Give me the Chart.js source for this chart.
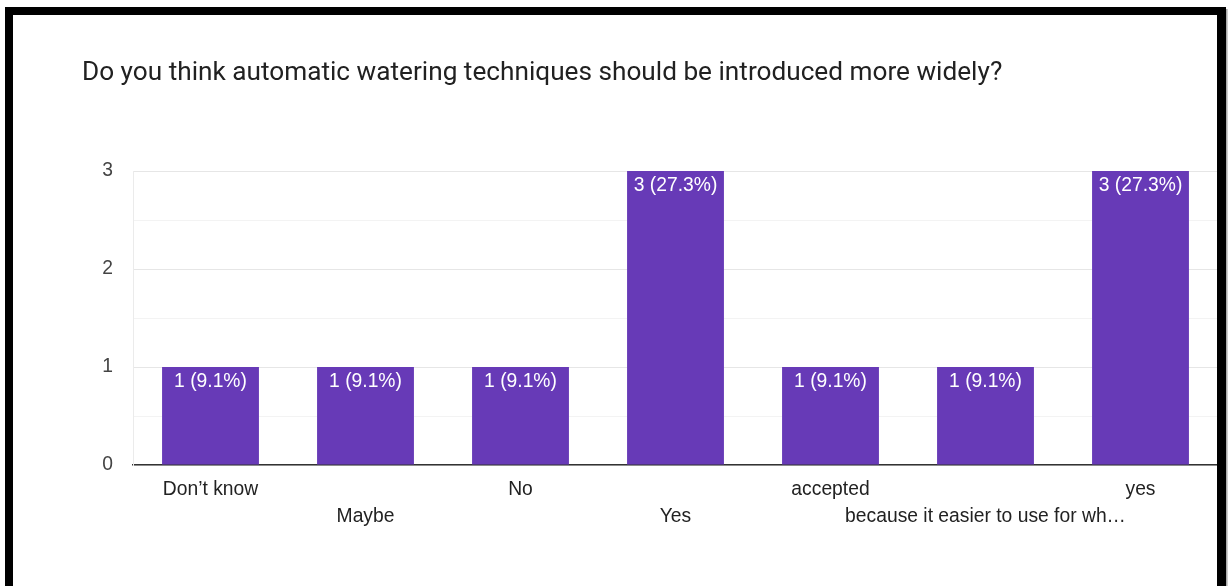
<!DOCTYPE html>
<html>
<head>
<meta charset="utf-8">
<script src="https://cdn.jsdelivr.net/npm/chart.js@4/dist/chart.umd.min.js"></script>
<style>
  html, body { margin: 0; padding: 0; background: #fff; }
  #wrap { position: relative; width: 1228px; height: 586px; overflow: hidden; }
  canvas { position: absolute; left: 0; top: 0; }
  .edge { position: absolute; background: #000; }
  .shade { position: absolute; background: linear-gradient(to right, #9a9a9a, #e0e0e0); }
</style>
</head>
<body>
<div id="wrap">
  <canvas id="c" width="1228" height="586"></canvas>
  <div class="edge" style="left:5px; top:7px; width:1221px; height:8px;"></div>
  <div class="edge" style="left:5px; top:7px; width:8px; height:579px;"></div>
  <div class="edge" style="left:1217px; top:7px; width:9px; height:579px;"></div>
  <div class="shade" style="left:1226px; top:9px; width:2px; height:577px;"></div>
</div>
<script>
// Survey answers and response counts
const categories = [
  "Don\u2019t know",
  "Maybe",
  "No",
  "Yes",
  "accepted",
  "because it easier to use for wh\u2026",
  "yes"
];
const counts = [1, 1, 1, 3, 1, 1, 3];
const yTickLabels = ["0", "1", "2", "3"];

const total = counts.reduce((a, b) => a + b, 0);
const chartFont = "'Liberation Sans', Arial, sans-serif";

// Every other category label drops to a second row so long answers fit
const xLabels = categories.map((c, i) => (i % 2 === 1 ? ["", c] : [c]));

const barLabels = {
  id: "barLabels",
  afterDatasetsDraw(chart) {
    const { ctx } = chart;
    const meta = chart.getDatasetMeta(0);
    ctx.save();
    ctx.fillStyle = "#ffffff";
    ctx.font = "19.3px " + chartFont;
    ctx.textAlign = "center";
    ctx.textBaseline = "middle";
    meta.data.forEach((bar, i) => {
      const v = counts[i];
      const pct = (v / total * 100).toFixed(1);
      ctx.fillText(v + " (" + pct + "%)", bar.x, bar.y + 15);
    });
    ctx.restore();
  }
};

new Chart(document.getElementById("c"), {
  type: "bar",
  data: {
    labels: xLabels,
    datasets: [{
      data: counts,
      backgroundColor: "#673ab7",
      borderWidth: 0,
      categoryPercentage: 1,
      barPercentage: 0.625
    }]
  },
  options: {
    responsive: false,
    animation: false,
    layout: { padding: { left: 82, right: 10, top: 0, bottom: 44 } },
    plugins: {
      legend: { display: false },
      tooltip: { enabled: false },
      title: {
        display: true,
        text: "Do you think automatic watering techniques should be introduced more widely?",
        align: "start",
        color: "#212121",
        font: { family: "Roboto", size: 26.2, weight: "normal", lineHeight: 1.2 },
        padding: { top: 57.3, bottom: 82.3 }
      }
    },
    scales: {
      x: {
        grid: { display: false, drawTicks: false },
        border: { display: true, color: "#333333", width: 1.5 },
        ticks: {
          color: "#222222",
          autoSkip: false,
          maxRotation: 0,
          minRotation: 0,
          padding: 11.5,
          font: { family: chartFont, size: 19.3, lineHeight: 27 / 19.3 }
        }
      },
      y: {
        min: 0,
        max: 3,
        grid: {
          drawTicks: false,
          color: (ctx) => (ctx.tick && Number.isInteger(ctx.tick.value)) ? "#e6e6e6" : "#f3f3f3",
          lineWidth: 1
        },
        border: { display: true, color: "#ebebeb" },
        ticks: {
          stepSize: 0.5,
          padding: 20,
          color: "#444444",
          font: { family: chartFont, size: 19.3 },
          callback: (v) => Number.isInteger(v) ? yTickLabels[v] : ""
        },
        afterFit(scale) { scale.width = 51; }
      }
    }
  },
  plugins: [barLabels]
});
</script>
</body>
</html>
